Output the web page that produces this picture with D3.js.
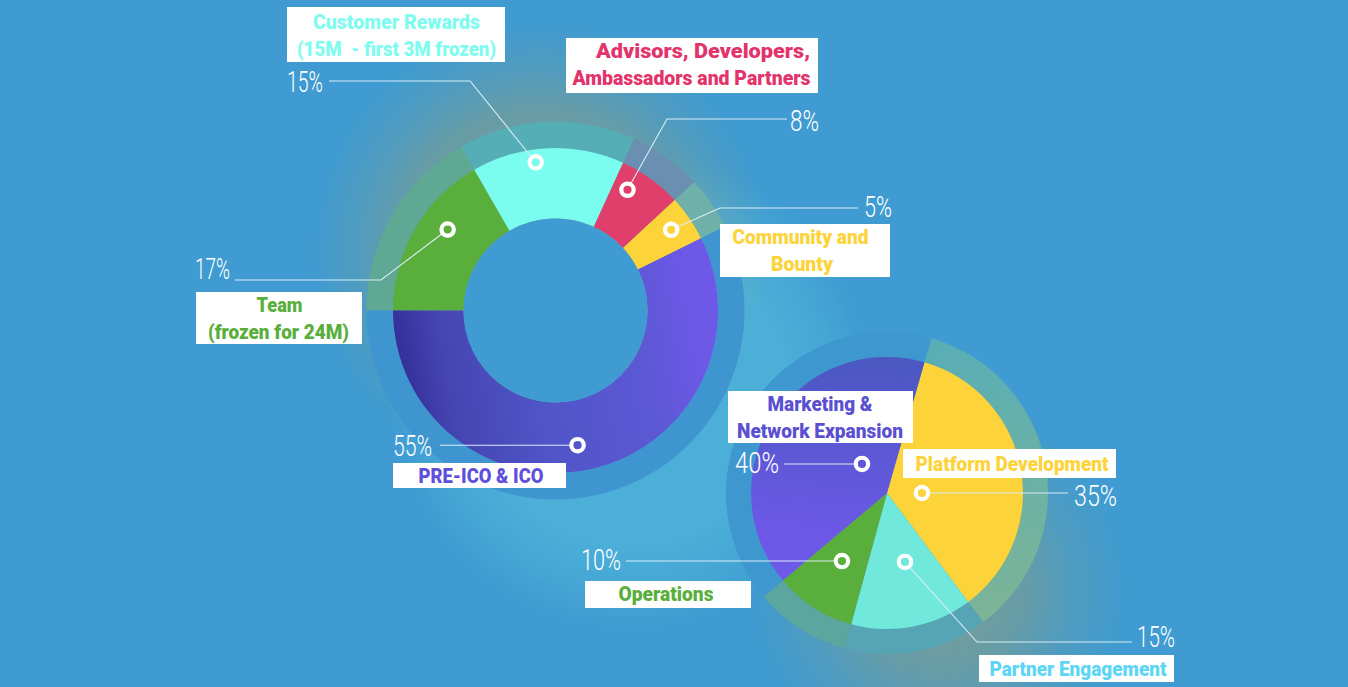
<!DOCTYPE html>
<html>
<head>
<meta charset="utf-8">
<title>Token allocation</title>
<script src="https://cdnjs.cloudflare.com/ajax/libs/d3/7.8.5/d3.min.js"></script>
<style>
html, body { margin: 0; padding: 0; background: #3f9bd1; overflow: hidden; }
svg { display: block; }
</style>
</head>
<body>
<div id="visualisation"></div>
<script>
// slices of the ring chart, clockwise from 9 o'clock (spans as drawn, in degrees)
var ringPercents = ["17%", "15%", "8%", "5%", "55%"]
var ringSpans = [60, 54.6, 22.6, 16.4, 206.4]
var ringColors = ["#5aae3b", "#7afcef", "#e03f6b", "#fdd33a", "url(#purpleRing)"]
var ringHalo = ["#5fa893", "#55aeb5", "#6a8fb0", "#6fb0a8", "#3f95d0"]

// slices of the pie, clockwise from its yellow edge
var piePercents = ["35%", "15%", "10%", "40%"]
var pieSpans = [127.3, 52, 34.7, 146]
var pieColors = ["#fdd33a", "#70e8dc", "#5aae3b", "url(#purplePie)"]
var pieHalo = ["url(#yellowHalo)", "#56a5b4", "#5ba69f", "#3f97cf"]

// callout dots in polar form: angle in degrees from 12 o'clock, radius as a share of the outer radius
var ringDotAngle = [-53.1, -7.6, 30.8, 55.1, 170.7]
var ringDotRadius = [0.83, 0.92, 0.865, 0.868, 0.84]
var pieDotAngle = [90, 165.4, 213.5, -40.8]
var pieDotRadius = [0.257, 0.524, 0.6, 0.282]

// labels
var ringLabels = [["Team", "(frozen for 24M)"], ["Customer Rewards", "(15M  - first 3M frozen)"], ["Advisors, Developers,", "Ambassadors and Partners"], ["Community and", "Bounty"], ["PRE-ICO & ICO"]]
var ringLabelColors = ["#5aae3b", "#7ffcef", "#e2336b", "#fdd33a", "#5f4fdc"]
var pieLabels = [["Platform Development"], ["Partner Engagement"], ["Operations"], ["Marketing &", "Network Expansion"]]
var pieLabelColors = ["#fdd33a", "#5dd5f5", "#5aae3b", "#5a50d0"]

var width = 1348, height = 687
var rad = Math.PI / 180

var svg = d3.select("#visualisation")
	.append("svg")
	.attr("width", width)
	.attr("height", height)

var defs = svg.append("defs")

function linear(id, x1, y1, x2, y2, stops)
{
	var g = defs.append("linearGradient").attr("id", id)
		.attr("gradientUnits", "userSpaceOnUse")
		.attr("x1", x1).attr("y1", y1).attr("x2", x2).attr("y2", y2)
	stops.forEach(function(s){ g.append("stop").attr("offset", s[0]).attr("stop-color", s[1]) })
}

function glow(id, cx, cy, r, color, stops)
{
	var g = defs.append("radialGradient").attr("id", id)
		.attr("gradientUnits", "userSpaceOnUse")
		.attr("cx", cx).attr("cy", cy).attr("r", r)
	stops.forEach(function(s){
		g.append("stop").attr("offset", s[0]).attr("stop-color", color).attr("stop-opacity", s[1])
	})
	svg.append("circle").attr("cx", cx).attr("cy", cy).attr("r", r).attr("fill", "url(#" + id + ")")
}

// the slices are drawn around their centre, so these run in chart coordinates
linear("purpleRing", -165, -10, 130, -60, [[0, "#35309a"], [0.14, "#4545b2"], [0.45, "#5055c8"], [0.8, "#5c58d4"], [1, "#6e58e8"]])
linear("purplePie", -50, -130, -60, 50, [[0, "#4c58c2"], [1, "#6e58e8"]])
linear("yellowHalo", 40, -150, 100, 130, [[0, "#58aeb6"], [1, "#7cb496"]])

svg.append("rect").attr("width", width).attr("height", height).attr("fill", "#3f9bd1")

// soft light behind the charts
glow("lightRing", 630, 390, 240, "#4bafd8", [[0, 1], [0.65, 1], [0.85, 0.5], [1, 0]])
glow("goldRing", 540, 250, 230, "#c8a040", [[0, 0.45], [0.6, 0.3], [0.8, 0.12], [1, 0]])
glow("goldPie", 940, 590, 190, "#c8a040", [[0, 0.45], [0.45, 0.28], [0.7, 0.12], [1, 0]])

function drawChart(cx, cy, r0, r1, rHalo, startDeg, spans, colors, halo)
{
	var pie = d3.pie().sort(null).value(function(d){ return d })
		.startAngle(startDeg * rad).endAngle((startDeg + 360) * rad)
	var arcs = pie(spans)
	var g = svg.append("g").attr("transform", "translate(" + cx + "," + cy + ")")

	var haloArc = d3.arc().innerRadius(r1).outerRadius(rHalo)
	g.selectAll(".halo")
		.data(arcs)
		.enter()
			.append("path")
			.attr("class", "halo")
			.attr("d", haloArc)
			.attr("fill", function(d, i){ return halo[i] })

	var arc = d3.arc().innerRadius(r0).outerRadius(r1)
	g.selectAll(".slice")
		.data(arcs)
		.enter()
			.append("path")
			.attr("class", "slice")
			.attr("d", arc)
			.attr("fill", function(d, i){ return colors[i] })

	if(r0 > 0)
	{
		g.append("circle").attr("r", r0).attr("fill", "#3f9bd1")
	}
}

var ringCx = 555.5, ringCy = 310.5, ringR = 162.5
var pieCx = 887, pieCy = 493, pieR = 136

drawChart(ringCx, ringCy, 92, ringR, 189, -90, ringSpans, ringColors, ringHalo)
drawChart(pieCx, pieCy, 0, pieR, 161, 16, pieSpans, pieColors, pieHalo)

function dot(cx, cy, r, angle, share)
{
	var p = d3.pointRadial(angle * rad, r * share)
	return [cx + p[0], cy + p[1]]
}

// [label end x, elbow x or null, y of the horizontal run]
var ringLeaders = [[235, 381, 280], [329, 470, 81], [787, 667, 119], [858, 720, 208], [440, null, 445]]
var pieLeaders = [[1068, null, 493], [1132, 977, 642], [626, null, 561], [784, null, 464]]

var line = d3.line()
var dotRadius = 6.2

function drawLeaders(leaders, cx, cy, r, angles, shares)
{
	leaders.forEach(function(l, i){
		var p = dot(cx, cy, r, angles[i], shares[i])
		var from = l[1] === null ? [l[0], p[1]] : [l[1], l[2]]
		// stop at the ring so the line does not show through the dot
		var len = Math.hypot(from[0] - p[0], from[1] - p[1])
		var end = [p[0] + (from[0] - p[0]) * dotRadius / len, p[1] + (from[1] - p[1]) * dotRadius / len]
		var pts = l[1] === null ? [from, end] : [[l[0], l[2]], from, end]
		svg.append("path").attr("d", line(pts))
			.attr("fill", "none")
			.attr("stroke", "#d8eef7")
			.attr("stroke-width", 1.1)
		svg.append("circle").attr("cx", p[0]).attr("cy", p[1]).attr("r", dotRadius)
			.attr("fill", "none")
			.attr("stroke", "#fff")
			.attr("stroke-width", 4.2)
	})
}

drawLeaders(ringLeaders, ringCx, ringCy, ringR, ringDotAngle, ringDotRadius)
drawLeaders(pieLeaders, pieCx, pieCy, pieR, pieDotAngle, pieDotRadius)

// boxes: x, y, width, height, then each line's centre x, baseline and width
var ringBoxes = [
	[196, 292, 166, 52, [279.5, 278.5], [312, 339], [46, 141]],
	[287, 7, 218, 55, [396.5, 396.5], [29, 56], [167, 199]],
	[566, 38, 252, 55, [703, 691.5], [58, 85], [214, 238]],
	[720, 224, 170, 53, [800.5, 802], [244, 271], [136, 62]],
	[393, 463, 173, 25, [481], [483], [125]]
]
var pieBoxes = [
	[903, 449, 213, 29, [1012], [471], [193]],
	[979, 655, 195, 27, [1078], [676], [177]],
	[585, 581, 166, 27, [666], [601], [95]],
	[728, 391, 185, 52, [820, 820], [411, 438], [105, 166]]
]

function drawBoxes(boxes, labels, colors)
{
	boxes.forEach(function(b, i){
		svg.append("rect").attr("x", b[0]).attr("y", b[1]).attr("width", b[2]).attr("height", b[3]).attr("fill", "#fff")
		labels[i].forEach(function(t, j){
			svg.append("text")
				.attr("x", b[4][j])
				.attr("y", b[5][j])
				.attr("text-anchor", "middle")
				.attr("font-family", "Roboto, sans-serif")
				.attr("font-weight", 900)
				.attr("font-size", 21)
				.attr("fill", colors[i])
				.attr("textLength", b[6][j])
				.attr("lengthAdjust", "spacingAndGlyphs")
				.style("white-space", "pre")
				.text(t)
		})
	})
}

drawBoxes(ringBoxes, ringLabels, ringLabelColors)
drawBoxes(pieBoxes, pieLabels, pieLabelColors)

// percent labels: left x, baseline, width
var ringPercentPos = [[195, 279, 35], [287, 92, 36], [790, 131, 29], [864, 217, 28], [393, 456, 39]]
var piePercentPos = [[1074, 506, 43], [1137, 647, 38], [581, 570, 40], [735, 473, 44]]

function drawPercents(pos, labels)
{
	pos.forEach(function(p, i){
		svg.append("text")
			.attr("x", p[0])
			.attr("y", p[1])
			.attr("font-family", "Roboto, sans-serif")
			.attr("font-weight", 300)
			.attr("font-size", 29)
			.attr("fill", "#fff")
			.attr("textLength", p[2])
			.attr("lengthAdjust", "spacingAndGlyphs")
			.text(labels[i])
	})
}

drawPercents(ringPercentPos, ringPercents)
drawPercents(piePercentPos, piePercents)
</script>
</body>
</html>
